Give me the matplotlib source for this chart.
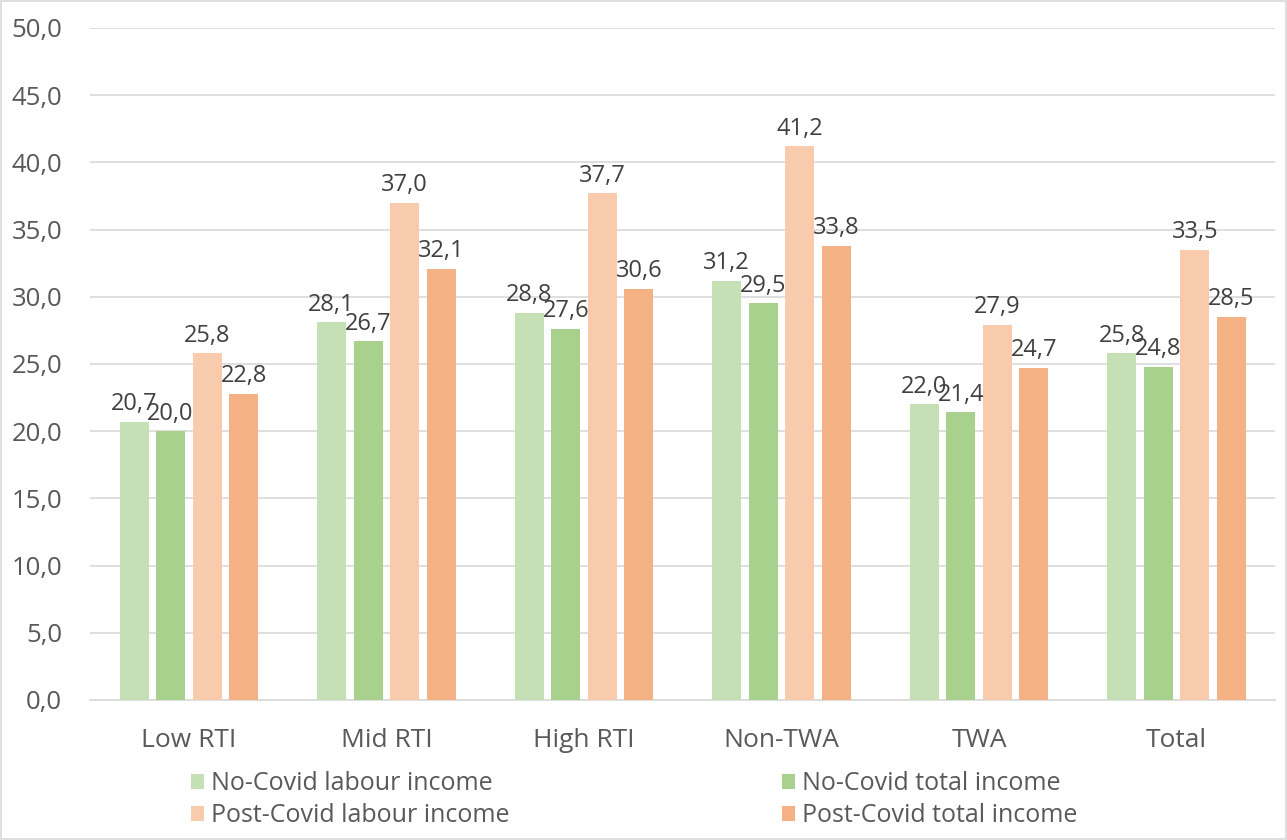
import numpy as np
import matplotlib.pyplot as plt
from matplotlib.patches import Rectangle

plt.rcParams["font.family"] = ["Open Sans", "DejaVu Sans"]

groups = ["Low RTI", "Mid RTI", "High RTI", "Non-TWA", "TWA", "Total"]
nocovid_labour = [20.7, 28.1, 28.8, 31.2, 22.0, 25.8]
nocovid_total = [20.0, 26.7, 27.6, 29.5, 21.4, 24.8]
postcovid_labour = [25.8, 37.0, 37.7, 41.2, 27.9, 33.5]
postcovid_total = [22.8, 32.1, 30.6, 33.8, 24.7, 28.5]

series = [
    ("No-Covid labour income", nocovid_labour, "#C5E0B4"),
    ("No-Covid total income", nocovid_total, "#A9D18E"),
    ("Post-Covid labour income", postcovid_labour, "#F8CBAD"),
    ("Post-Covid total income", postcovid_total, "#F4B183"),
]

fig = plt.figure(figsize=(12.87, 8.4), dpi=100)
ax = fig.add_axes([0.070, 0.1667, 0.921, 0.80])

x = np.arange(len(groups))
width = 0.147
step = 0.185
bars = {}
for i, (name, vals, color) in enumerate(series):
    pos = x + (i - 1.5) * step
    b = ax.bar(pos, vals, width, color=color, label=name, zorder=3)
    bars[name] = b
    for xp, v in zip(pos, vals):
        ax.annotate(f"{v:.1f}".replace(".", ","), (xp, v), xytext=(0, 4),
                    textcoords="offset points", ha="center", va="bottom",
                    fontsize=17, color="#404040", zorder=4)

ax.set_ylim(0, 50)
ax.set_xlim(-0.5, len(groups) - 0.5)
yt = np.arange(0, 51, 5)
ax.set_yticks(yt)
ax.set_yticklabels([f"{v:.1f}".replace(".", ",") for v in yt])
ax.set_xticks(x)
ax.set_xticklabels(groups)
ax.tick_params(axis="both", length=0, labelcolor="#595959")
ax.tick_params(axis="y", labelsize=18.5, pad=20)
ax.tick_params(axis="x", labelsize=19, pad=20)
ax.grid(axis="y", color="#D9D9D9", linewidth=1.2, zorder=0)
for s in ["top", "right", "left"]:
    ax.spines[s].set_visible(False)
ax.spines["bottom"].set_color("#D9D9D9")
ax.spines["bottom"].set_linewidth(1.2)

order = ["No-Covid labour income", "Post-Covid labour income",
         "No-Covid total income", "Post-Covid total income"]
leg = fig.legend([bars[n] for n in order], order, ncol=2, frameon=False,
                 loc="lower left", bbox_to_anchor=(0.131, -0.013),
                 fontsize=18, handlelength=0.5, handleheight=0.5,
                 handletextpad=0.3, columnspacing=10.9, labelspacing=0.28)
for t in leg.get_texts():
    t.set_color("#595959")

fig.patches.append(Rectangle((0.001, 0.001), 0.998, 0.998, transform=fig.transFigure,
                             fill=False, edgecolor="#D9D9D9", linewidth=1.2))

fig.savefig("out.png", dpi=100)
